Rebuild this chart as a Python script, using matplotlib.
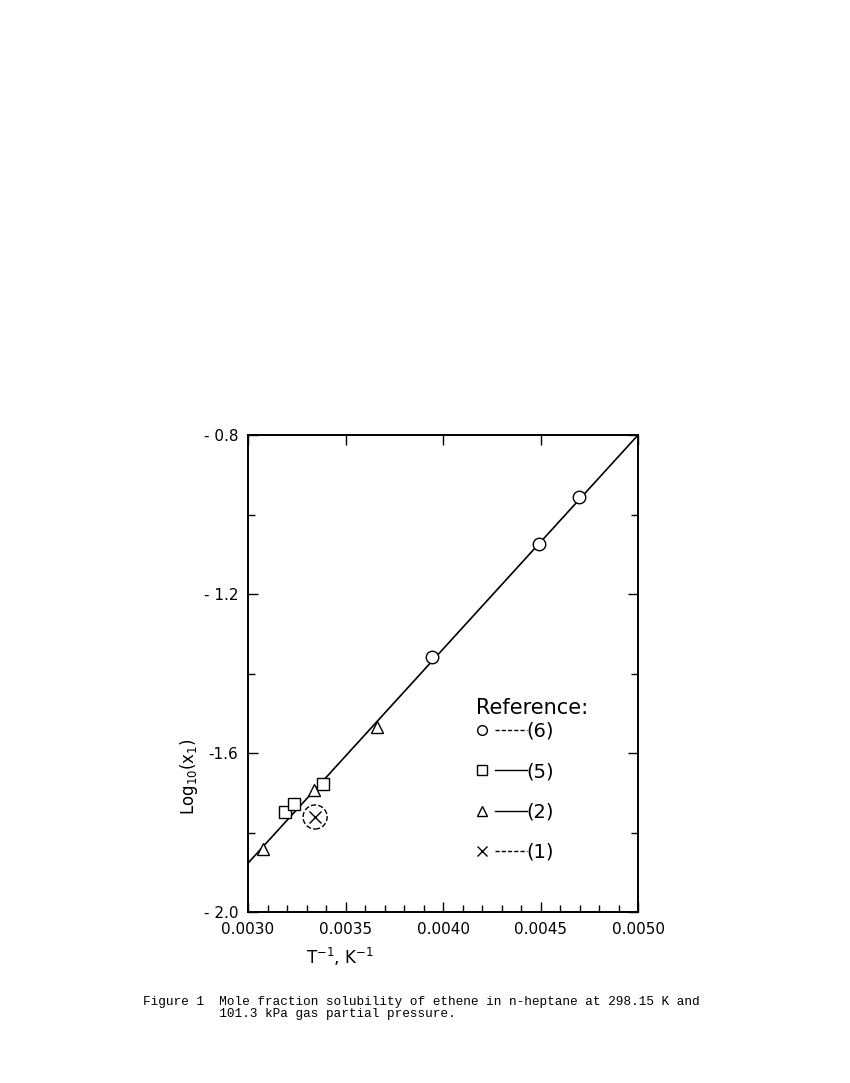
import numpy as np
import matplotlib.pyplot as plt
from matplotlib.lines import Line2D
from matplotlib.legend_handler import HandlerBase

# data
ref6_x = [0.003944, 0.004492, 0.004697]
ref6_y = [-1.358, -1.074, -0.956]
ref5_x = [0.003190, 0.003236, 0.003385]
ref5_y = [-1.748, -1.728, -1.678]
ref2_x = [0.003077, 0.003338, 0.003662]
ref2_y = [-1.842, -1.693, -1.535]
ref1_x = [0.003344]
ref1_y = [-1.761]

fit_x = [0.0030, 0.0050]
fit_y = [-1.877, -0.800]

xticks = [0.0030, 0.0035, 0.0040, 0.0045, 0.0050]
xlabels = ['0.0030', '0.0035', '0.0040', '0.0045', '0.0050']
yticks = [-2.0, -1.6, -1.2, -0.8]
ylabels = ['- 2.0', '-1.6', '- 1.2', '- 0.8']
yminor = [-1.8, -1.4, -1.0]

leg_markers = ['o', 's', '^', 'x']
leg_styles = ['--', '-', '-', '--']
leg_labels = ['(6)', '(5)', '(2)', '(1)']


class MarkerThenLine(HandlerBase):
    # marker on the left, line segment to its right
    def create_artists(self, legend, orig_handle, xdescent, ydescent,
                       width, height, fontsize, trans):
        y = height / 2 - ydescent
        x0 = -xdescent
        m = Line2D([x0 + 0.12 * width], [y], marker=orig_handle.get_marker(),
                   ls='', color='black', mfc='white', ms=7, mew=1.0)
        ln = Line2D([x0 + 0.37 * width, x0 + width], [y, y],
                    ls=orig_handle.get_linestyle(), color='black', lw=1.0,
                    dashes=(3, 1.5) if orig_handle.get_linestyle() == '--' else (None, None))
        m.set_transform(trans)
        ln.set_transform(trans)
        return [m, ln]


plt.rcParams['font.family'] = 'DejaVu Sans'
fig = plt.figure(figsize=(8.5, 10.83), dpi=100)
ax = fig.add_axes([0.2918, 0.1579, 0.4588, 0.4404])

ax.plot(fit_x, fit_y, color='black', lw=1.2)
mk = dict(color='black', mfc='white', mec='black', mew=1.0, ls='', ms=9)
ax.plot(ref6_x, ref6_y, marker='o', **mk)
ax.plot(ref5_x, ref5_y, marker='s', **mk)
ax.plot(ref2_x, ref2_y, marker='^', **mk)
ax.plot(ref1_x, ref1_y, marker='x', color='black', ls='', ms=8, mew=1.0)
ax.scatter(ref1_x, ref1_y, s=300, facecolors='none', edgecolors='black',
           linestyle='--', linewidths=1.0)

ax.set_xlim(0.0030, 0.0050)
ax.set_ylim(-2.0, -0.8)
ax.set_xticks(xticks)
ax.set_xticklabels(xlabels)
ax.set_xticks(np.arange(30, 51) / 10000, minor=True)
ax.set_yticks(yticks)
ax.set_yticklabels(ylabels)
ax.set_yticks(yminor, minor=True)
ax.tick_params(which='both', direction='in', top=True, right=True,
               labelsize=11, width=1.0)
ax.tick_params(which='major', length=7, pad=7)
ax.tick_params(which='minor', length=5)
ax.tick_params(axis='x', which='minor', top=False)
for sp in ax.spines.values():
    sp.set_linewidth(1.4)

ax.set_xlabel('T$^{-1}$, K$^{-1}$', fontsize=12)
ax.xaxis.set_label_coords(0.236, -0.072)
ax.set_ylabel('Log$_{10}$(x$_1$)', fontsize=12)
ax.yaxis.set_label_coords(-0.122, 0.285)

handles = [Line2D([], [], marker=m, ls=s) for m, s in zip(leg_markers, leg_styles)]
ax.legend(handles, leg_labels, handler_map={Line2D: MarkerThenLine()},
          loc='upper left', bbox_to_anchor=(0.585, 0.399), frameon=False,
          fontsize=14, handlelength=2.6, handletextpad=0.0, labelspacing=1.1,
          borderpad=0, borderaxespad=0)
ax.text(0.585, 0.428, 'Reference:', transform=ax.transAxes, fontsize=15,
        ha='left', va='center')

fig.text(0.168, 0.058, 'Figure 1  Mole fraction solubility of ethene in n-heptane at 298.15 K and\n'
         '          101.3 kPa gas partial pressure.', family='Liberation Mono',
         fontsize=9.2, va='bottom', linespacing=1.0)

fig.savefig('out.png', dpi=100)
